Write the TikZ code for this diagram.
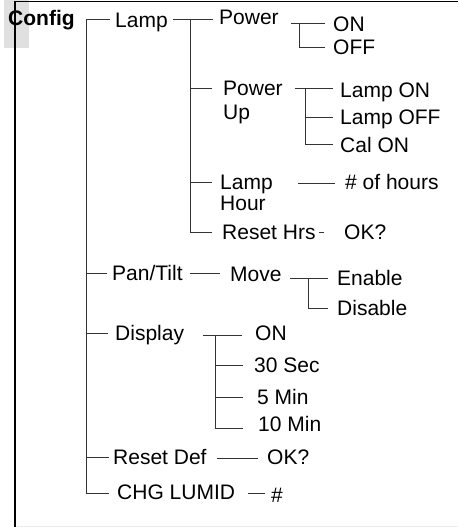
\documentclass[tikz,border=0pt]{standalone}
\usepackage{fontspec}
\setmainfont{Liberation Sans}
\usetikzlibrary{calc}
\begin{document}
\begin{tikzpicture}[x=1pt,y=-1pt,
  font=\fontsize{21}{23}\selectfont,
  txt/.style={anchor=base west, inner sep=0pt},
  ml/.style={anchor=west, inner sep=0pt, align=left},
  ln/.style={line width=0.8pt, draw=black!80}]
\useasboundingbox (0,0) rectangle (458,527);
% frame
\fill[black!12] (4,0) rectangle (29,48);
\draw[line width=1.2pt] (15,1.5) -- (458,1.5);
\draw[line width=1.1pt] (15,1.5) -- (15,527);
\draw[line width=0.8pt, black!8] (17,526) -- (458,526);
% nodes
\node[txt] (config) at (8,25.5) {\bfseries Config};
\node[txt] (lamp) at (115,27.5) {Lamp};
\node[txt] (power) at (219,24.5) {Power};
\node[txt] (on1) at (333,31.5) {ON};
\node[txt] (off1) at (333,54.5) {OFF};
\node[ml, font=\fontsize{21}{23.3}\selectfont] (powerup) at (223,102.6) {Power\\Up};
\node[txt] (lampon) at (340,97.5) {Lamp ON};
\node[txt] (lampoff) at (340,124.5) {Lamp OFF};
\node[txt] (calon) at (340,152.5) {Cal ON};
\node[ml, font=\fontsize{21}{21.6}\selectfont] (lamphour) at (220,192.8) {Lamp\\Hour};
\node[txt] (hours) at (345,189.5) {\# of hours};
\node[txt] (resethrs) at (222,239.5) {Reset Hrs};
\node[txt] (ok1) at (344,239.5) {OK?};
\node[txt] (pantilt) at (112,280.5) {Pan/Tilt};
\node[txt] (move) at (230,281.5) {Move};
\node[txt] (enable) at (337,285.5) {Enable};
\node[txt] (disable) at (337,315.5) {Disable};
\node[txt] (display) at (115,340.5) {Display};
\node[txt] (on2) at (255,340.5) {ON};
\node[txt] (sec30) at (254,372.5) {30 Sec};
\node[txt] (min5) at (257,404.5) {5 Min};
\node[txt] (min10) at (258,431.5) {10 Min};
\node[txt] (resetdef) at (113,464.5) {Reset Def};
\node[txt] (ok2) at (267,464.5) {OK?};
\node[txt] (chg) at (117,499.5) {CHG LUMID};
\node[txt] (hash) at (271,502.5) {\#};
% bus coordinates
\coordinate (b0t) at (86,19);   \coordinate (b0b) at (86,493);
\coordinate (b1t) at (190,19);  \coordinate (b1b) at (190,232);
\coordinate (b2t) at (299,23);  \coordinate (b2b) at (299,47);
\coordinate (b3t) at (305,88);  \coordinate (b3b) at (305,144);
\coordinate (b4t) at (308,278); \coordinate (b4b) at (308,308);
\coordinate (b5t) at (215,335); \coordinate (b5b) at (215,428);
\coordinate (pt) at (190,273);
% level 1
\draw[ln] (b0t) -- (b0b);
\draw[ln] (b0t) -- ($(b0t -| lamp.west)+(-5,0)$);
\draw[ln] (86,273) -- ($(pt -| pantilt.west)+(-5,0)$);
\draw[ln] (86,333) -- ($(b5t -| display.west)+(-7,-2)$);
\draw[ln] (86,457) -- ($(86,457 -| resetdef.west)+(-4,0)$);
\draw[ln] (b0b) -- ($(b0b -| chg.west)+(-8,0)$);
% lamp children
\draw[ln] ($(b1t -| lamp.east)+(5,0)$) -- (213,19);
\draw[ln] (b1t) -- (b1b);
\draw[ln] (190,88) -- ($(190,88 -| powerup.west)+(-11,0)$);
\draw[ln] (190,182) -- ($(190,182 -| lamphour.west)+(-8,0)$);
\draw[ln] (b1b) -- ($(b1b -| resethrs.west)+(-10,0)$);
% power
\draw[ln] ($(b2t -| power.east)+(12,0)$) -- ($(b2t -| on1.west)+(-8,0)$);
\draw[ln] (b2t) -- (b2b) -- ($(b2b -| off1.west)+(-8,0)$);
% power up
\draw[ln] ($(b3t -| powerup.east)+(12,0)$) -- ($(b3t -| lampon.west)+(-7,0)$);
\draw[ln] (b3t) -- (b3b) -- ($(b3b -| calon.west)+(-7,0)$);
\draw[ln] (305,117) -- ($(305,117 -| lampoff.west)+(-7,0)$);
% lamp hour
\draw[ln] (298,183) -- ($(298,183 -| hours.west)+(-10,0)$);
% reset hrs
\draw[ln] (319,232) -- ($(b1b -| ok1.west)+(-20,0)$);
% pan/tilt
\draw[ln] ($(pt -| pantilt.east)+(7,0)$) -- ($(pt -| move.west)+(-10,0)$);
\draw[ln] (290,278) -- ($(b4t -| enable.west)+(-9,0)$);
\draw[ln] (b4t) -- (b4b) -- ($(b4b -| disable.west)+(-9,0)$);
% display
\draw[ln] (203,335) -- ($(b5t -| on2.west)+(-13,0)$);
\draw[ln] (b5t) -- (b5b) -- ($(b5b -| min10.west)+(-15,0)$);
\draw[ln] (215,365) -- ($(215,365 -| sec30.west)+(-11,0)$);
\draw[ln] (215,397) -- ($(215,397 -| min5.west)+(-14,0)$);
% reset def
\draw[ln] (217,458) -- ($(0,458 -| ok2.west)+(-9,0)$);
% chg lumid
\draw[ln] (248,493) -- ($(0,493 -| hash.west)+(-6,0)$);
\end{tikzpicture}
\end{document}
